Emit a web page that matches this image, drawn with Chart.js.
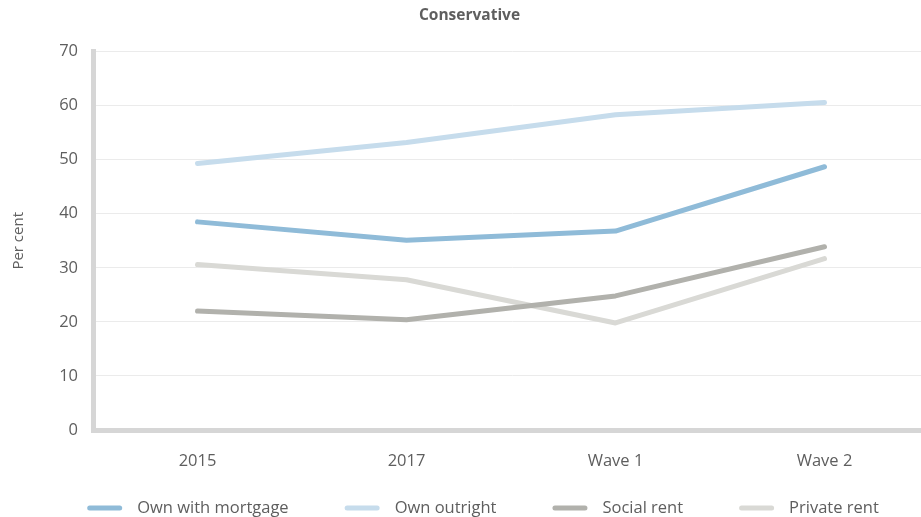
<!DOCTYPE html>
<html>
<head>
<meta charset="utf-8">
<script src="https://cdn.jsdelivr.net/npm/chart.js@4"></script>
<style>
  html, body { margin: 0; padding: 0; background: #fff; }
  .canvas-container { width: 921px; height: 517px; overflow: hidden; position: relative; }
  #chart { position: absolute; left: 0; top: 0; }
</style>
</head>
<body>
<div class="canvas-container">
  <canvas id="chart" width="972" height="517"></canvas>
</div>
<script>
const categories = ['2015', '2017', 'Wave 1', 'Wave 2'];
const ownWithMortgage = [38.5, 35.1, 36.8, 48.7];
const ownOutright = [49.3, 53.2, 58.3, 60.6];
const socialRent = [22.0, 20.4, 24.8, 33.9];
const privateRent = [30.6, 27.8, 19.8, 31.7];
const yTicks = [0, 10, 20, 30, 40, 50, 60, 70];

const FONT = '"Open Sans", Lato, sans-serif';
const TEXT = '#5e5e5e';

function series(label, data, color) {
    return {
        label: label,
        data: data,
        borderColor: color,
        backgroundColor: color,
        borderWidth: 5,
        borderCapStyle: 'round',
        borderJoinStyle: 'round',
        tension: 0,
        pointRadius: 0,
        pointHoverRadius: 0,
        fill: false
    };
}

// legend row drawn by hand: line sample, gap, label, wider gap to next item
const lineLegend = {
    id: 'lineLegend',
    afterDraw(chart) {
        const c = chart.ctx;
        const sets = chart.data.datasets;
        const sample = 35, gapIn = 15, gapOut = 56, y = 508;
        c.save();
        c.font = '16.5px ' + FONT;
        const widths = sets.map(d => c.measureText(d.label).width);
        let total = widths.reduce((a, b) => a + b, 0) + sets.length * (sample + gapIn) + (sets.length - 1) * gapOut;
        let x = (chart.width - total) / 2 - 3;
        c.textBaseline = 'middle';
        c.fillStyle = TEXT;
        sets.forEach((d, i) => {
            c.strokeStyle = d.borderColor;
            c.lineWidth = 5;
            c.lineCap = 'round';
            c.beginPath();
            c.moveTo(x + 2.5, y);
            c.lineTo(x + sample - 2.5, y);
            c.stroke();
            x += sample + gapIn;
            c.fillText(d.label, x, y);
            x += widths[i] + gapOut;
        });
        c.restore();
    }
};

const canvas = document.getElementById('chart');
const ctx = canvas.getContext('2d');

const myChart = new Chart(ctx, {
    type: 'line',
    data: {
        labels: categories,
        datasets: [
            series('Own with mortgage', ownWithMortgage, '#8fbbd8'),
            series('Own outright', ownOutright, '#c6dcec'),
            series('Social rent', socialRent, '#b1b1ac'),
            series('Private rent', privateRent, '#d9d9d5')
        ]
    },
    plugins: [lineLegend],
    options: {
        responsive: false,
        animation: false,
        layout: { padding: { left: 10, right: 43, top: 6, bottom: 39 } },
        plugins: {
            title: {
                display: true,
                text: 'Conservative',
                color: TEXT,
                font: { family: FONT, size: 15.5, weight: 'bold' },
                padding: { top: 0, bottom: 27 }
            },
            legend: { display: false },
            tooltip: { enabled: false }
        },
        scales: {
            x: {
                offset: true,
                grid: { display: false, drawTicks: false },
                border: { color: '#d6d6d6', width: 5 },
                ticks: {
                    color: TEXT,
                    font: { family: FONT, size: 16.5 },
                    padding: 21
                },
                afterFit: function (scale) { scale.height = 48; }
            },
            y: {
                min: 0,
                max: 70,
                afterBuildTicks: function (scale) {
                    scale.ticks = yTicks.map(v => ({ value: v }));
                },
                grid: { color: '#ebebeb', lineWidth: 1, drawTicks: false },
                border: { color: '#d6d6d6', width: 5 },
                ticks: {
                    color: TEXT,
                    font: { family: FONT, size: 16.5 },
                    padding: 15
                },
                title: {
                    display: true,
                    text: 'Per cent',
                    color: TEXT,
                    font: { family: FONT, size: 15 },
                    padding: { top: 0, bottom: 12 }
                },
                afterFit: function (scale) { scale.width = 83; }
            }
        }
    }
});
</script>
</body>
</html>
